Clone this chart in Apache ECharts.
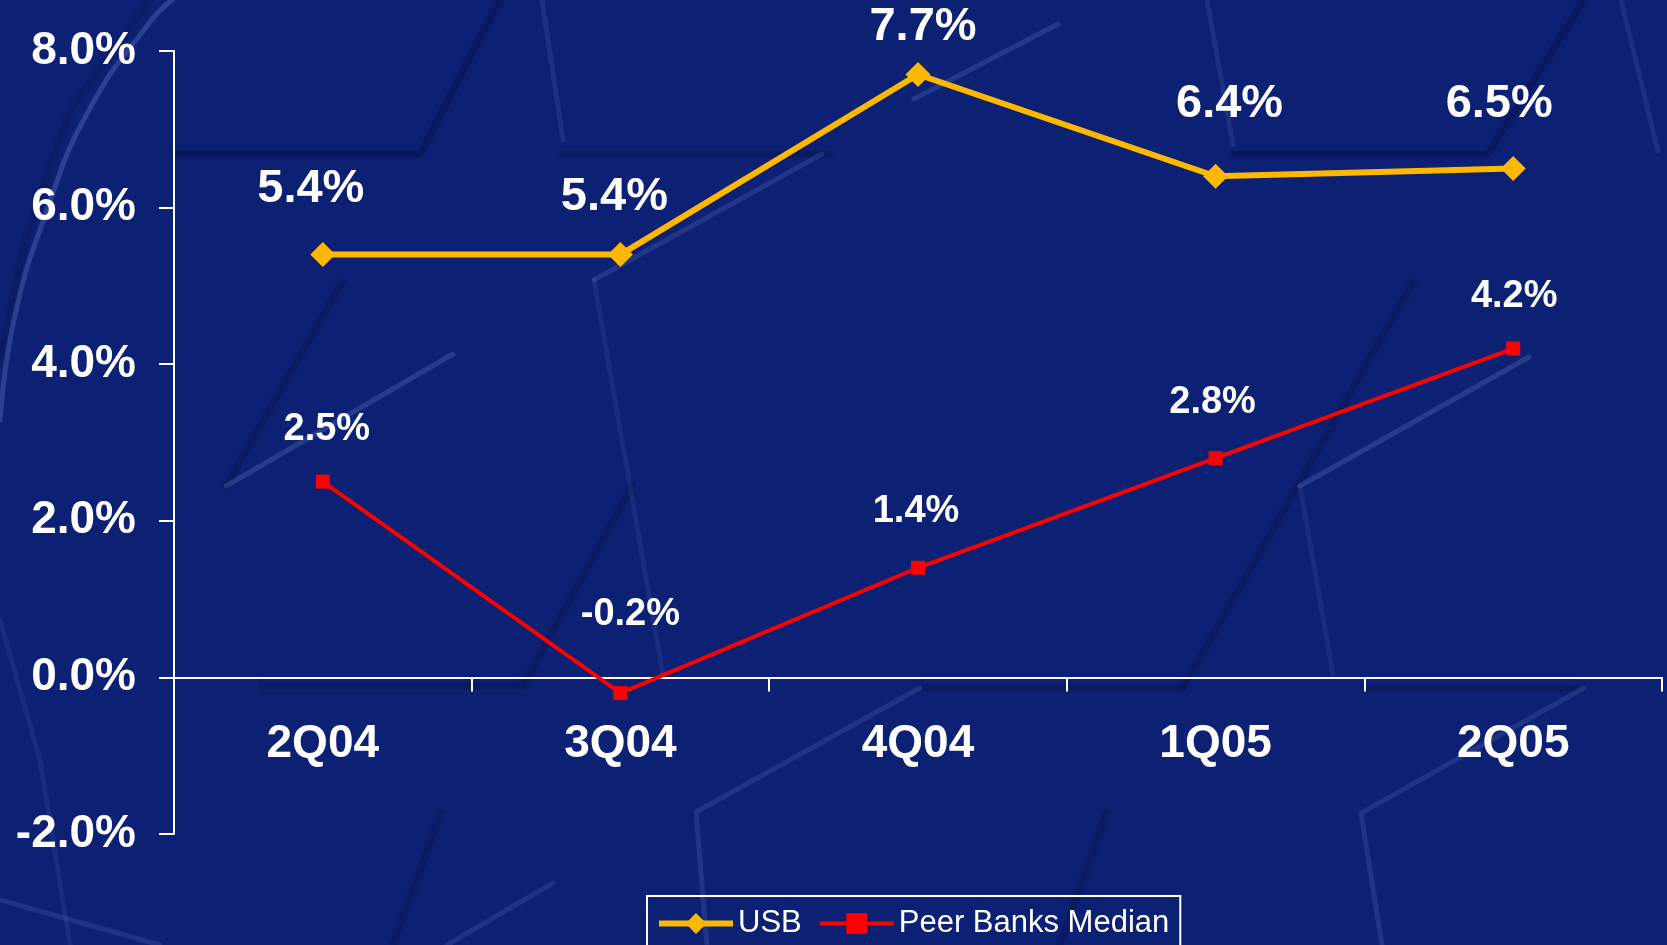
<!DOCTYPE html>
<html>
<head>
<meta charset="utf-8">
<title>USB vs Peer Banks Median</title>
<script src="https://cdn.jsdelivr.net/npm/echarts@6/dist/echarts.min.js"></script>
<style>
  html, body { margin: 0; padding: 0; background: #0d2174; }
  #chart { width: 1667px; height: 945px; }
</style>
</head>
<body>
<div id="chart"></div>
<script>
// Quarters on the category axis
const quarters = ['2Q04', '3Q04', '4Q04', '1Q05', '2Q05'];
// Growth rates, in percent
const usbValues = [5.4, 5.4, 7.7, 6.4, 6.5];
const peerValues = [2.5, -0.2, 1.4, 2.8, 4.2];
// Value axis range and step, in percent
const yMin = -2;
const yMax = 8;
const yStep = 2;
const seriesNames = ['USB', 'Peer Banks Median'];

const FONT = "'Liberation Sans', Arial, sans-serif";
const pct = v => Number(v).toFixed(1) + '%';

// Hand-placed label nudges (label centre relative to its point)
const usbLabelShift = [[-12, -66], [-6, -58], [5, -47], [14, -72], [-14, -64]];
const peerLabelShift = [[4, -52], [10, -79], [-2, -56], [-3, -56], [1, -52]];

function withLabels(values, shifts) {
  return values.map((v, i) => ({
    value: v,
    label: { offset: shifts[i] }
  }));
}

// Soft embossed backdrop: light ridges and dark grooves
function ridge(points, alpha, smooth) {
  return {
    type: 'polyline', silent: true, z: -10,
    shape: { points: points, smooth: smooth ? 0.5 : 0 },
    style: {
      stroke: 'rgba(135,155,225,' + (alpha || 0.18) + ')', lineWidth: 5, lineCap: 'round',
      shadowBlur: 5, shadowColor: 'rgba(135,155,225,0.2)'
    }
  };
}
function groove(points, alpha) {
  return {
    type: 'polyline', silent: true, z: -11,
    shape: { points: points },
    style: {
      stroke: 'rgba(5,14,70,' + (alpha || 0.32) + ')', lineWidth: 7, lineCap: 'round',
      shadowBlur: 7, shadowColor: 'rgba(5,14,70,0.4)'
    }
  };
}
const backdrop = [
  // large sweep on the left
  ridge([[172, 0], [150, 22], [89, 110], [46, 213], [14, 320], [0, 420]], 0.24, true),
  groove([[150, 0], [70, 110], [25, 240], [0, 360]], 0.22),
  ridge([[0, 620], [40, 760], [70, 945]], 0.1),
  ridge([[0, 900], [160, 945]], 0.14),
  // upper band
  groove([[175, 154], [420, 154], [500, 0]], 0.38),
  groove([[563, 154], [829, 154]], 0.28),
  groove([[1233, 154], [1488, 154], [1584, 0]], 0.38),
  ridge([[542, 0], [563, 140]], 0.12),
  ridge([[1207, 0], [1233, 145]], 0.12),
  ridge([[1621, 0], [1658, 151]], 0.12),
  ridge([[914, 99], [1058, 24]], 0.18),
  // middle motifs
  groove([[342, 282], [226, 486]], 0.32),
  ridge([[226, 486], [453, 354]], 0.2),
  ridge([[594, 280], [822, 154]], 0.16),
  ridge([[594, 280], [663, 675]], 0.1),
  groove([[632, 486], [523, 686], [262, 686]], 0.32),
  groove([[1413, 282], [1184, 686]], 0.32),
  ridge([[1300, 486], [1529, 357]], 0.2),
  ridge([[1300, 486], [1333, 675]], 0.1),
  groove([[925, 688], [1184, 688]], 0.28),
  groove([[1366, 688], [1573, 688]], 0.28),
  // lower motifs
  ridge([[920, 688], [696, 812], [707, 945]], 0.15),
  ridge([[1584, 688], [1361, 813], [1382, 945]], 0.15),
  groove([[1106, 813], [1060, 945]], 0.28),
  groove([[441, 813], [393, 945]], 0.28),
  ridge([[553, 883], [447, 945]], 0.14)
];

const chart = echarts.init(document.getElementById('chart'), null, { renderer: 'canvas' });

chart.setOption({
  backgroundColor: '#0d2174',
  animation: false,
  graphic: { elements: backdrop },
  grid: { left: 174, right: 5, top: 51, bottom: 111, containLabel: false },
  legend: {
    data: seriesNames,
    left: 647,
    top: 896,
    padding: [12, 11, 40, 9],
    itemGap: 16,
    itemWidth: 74,
    itemHeight: 26,
    borderColor: '#ffffff',
    borderWidth: 2,
    lineStyle: { width: 'inherit' },
    textStyle: { color: '#ffffff', fontFamily: FONT, fontSize: 31, lineHeight: 31 }
  },
  xAxis: {
    type: 'category',
    data: quarters,
    boundaryGap: true,
    axisLine: { onZero: true, lineStyle: { color: '#ffffff', width: 2 } },
    axisTick: { show: true, length: 14, lineStyle: { color: '#ffffff', width: 2 } },
    axisLabel: {
      color: '#ffffff', fontFamily: FONT, fontWeight: 'bold', fontSize: 46,
      lineHeight: 46, margin: -113
    },
    splitLine: { show: false }
  },
  yAxis: {
    type: 'value',
    min: yMin,
    max: yMax,
    interval: yStep,
    axisLine: { show: true, lineStyle: { color: '#ffffff', width: 2 } },
    axisTick: { show: true, inside: false, length: 15, lineStyle: { color: '#ffffff', width: 2 } },
    axisLabel: {
      color: '#ffffff', fontFamily: FONT, fontWeight: 'bold', fontSize: 46,
      margin: 38, formatter: v => pct(v)
    },
    splitLine: { show: false }
  },
  series: [
    {
      name: seriesNames[0],
      type: 'line',
      data: withLabels(usbValues, usbLabelShift),
      symbol: 'diamond',
      symbolSize: 25,
      lineStyle: { color: '#ffb800', width: 6 },
      itemStyle: { color: '#ffb800' },
      label: {
        show: true, position: 'inside', color: '#ffffff',
        fontFamily: FONT, fontWeight: 'bold', fontSize: 47,
        formatter: p => pct(p.value)
      },
      z: 3
    },
    {
      name: seriesNames[1],
      type: 'line',
      data: withLabels(peerValues, peerLabelShift),
      symbol: 'rect',
      symbolSize: 14,
      lineStyle: { color: '#ff0000', width: 4 },
      itemStyle: { color: '#ff0000' },
      label: {
        show: true, position: 'inside', color: '#ffffff',
        fontFamily: FONT, fontWeight: 'bold', fontSize: 38,
        formatter: p => pct(p.value)
      },
      z: 3
    }
  ]
});
</script>
</body>
</html>
